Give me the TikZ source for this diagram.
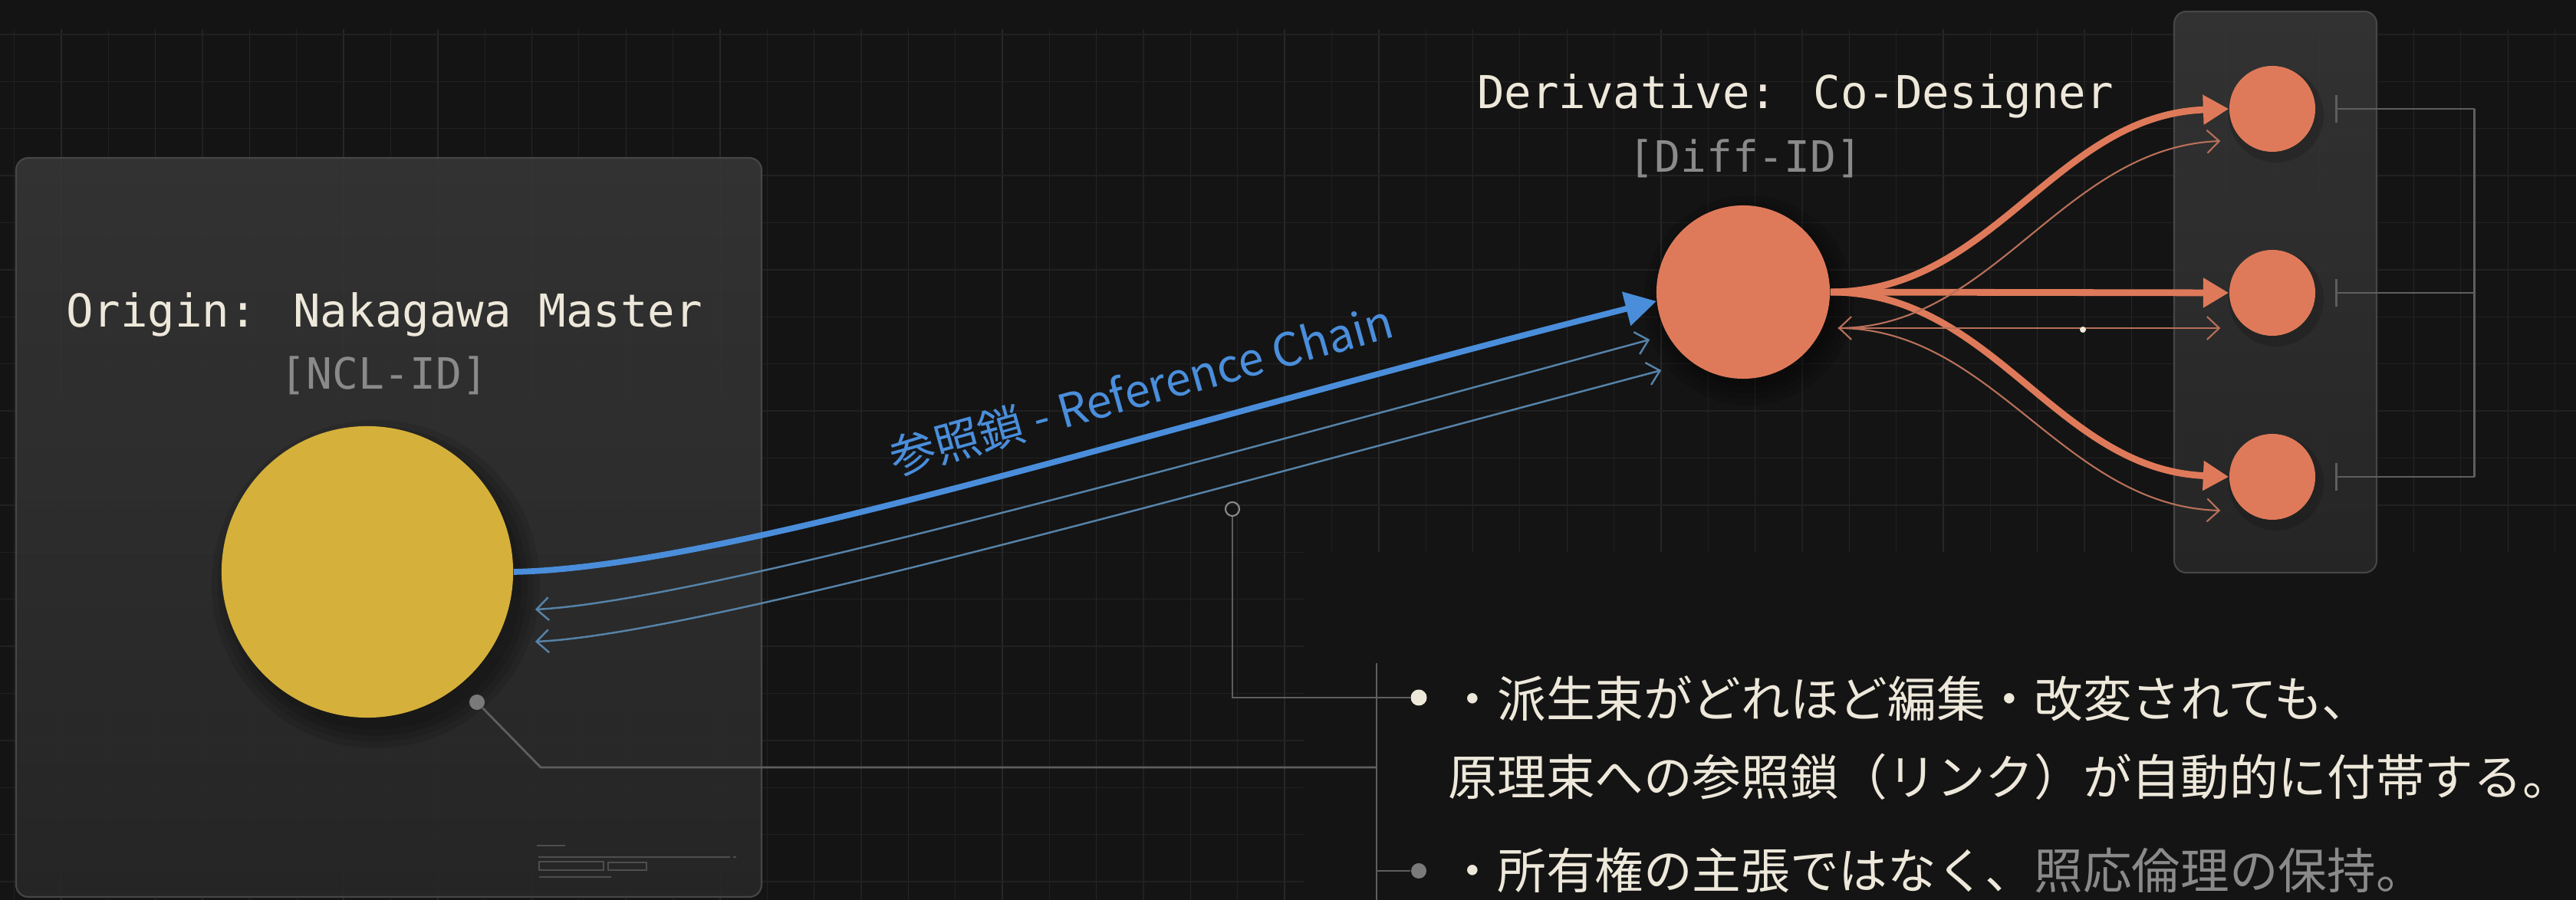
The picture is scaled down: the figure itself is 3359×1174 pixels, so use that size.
\documentclass[tikz,border=0pt]{standalone}
\usepackage{fontspec}
\usetikzlibrary{arrows.meta,calc}
\newfontfamily\monof{DejaVu Sans Mono}
\newfontfamily\jpf{Noto Sans CJK JP}
\definecolor{bgc}{HTML}{141414}
\definecolor{gridc}{HTML}{212121}
\definecolor{gridm}{HTML}{272727}
\definecolor{panelT}{HTML}{353535}
\definecolor{panelB}{HTML}{272727}
\definecolor{panelE}{HTML}{464646}
\definecolor{gold}{HTML}{D5B03A}
\definecolor{coral}{HTML}{DE7A5A}
\definecolor{thinor}{HTML}{B8705A}
\definecolor{refblue}{HTML}{4A8EDB}
\definecolor{thinblue}{HTML}{5683A8}
\definecolor{offwhite}{HTML}{EDE8DA}
\definecolor{idgrey}{HTML}{8A8A8A}
\definecolor{leadc}{HTML}{5E5E5E}
\definecolor{dotgrey}{HTML}{7A7A7A}
\definecolor{uic}{HTML}{4E4E4E}
\tikzset{
  panelbox/.style={top color=panelT, bottom color=panelB, fill opacity=0.93, rounded corners=4.5pt},
  panelrim/.style={draw=panelE, line width=0.6pt, rounded corners=4.5pt},
  monotitle/.style={font=\monof\fontsize{16.8pt}{20pt}\selectfont, text=offwhite, inner sep=0pt},
  idtext/.style={font=\monof\fontsize{16pt}{19pt}\selectfont, text=idgrey, inner sep=0pt},
  jptext/.style={font=\jpf\fontsize{18.1pt}{22pt}\selectfont, text=offwhite, inner sep=0pt, anchor=west},
  bluelabel/.style={font=\jpf\fontsize{17pt}{20pt}\selectfont, text=refblue, inner sep=0pt},
  disc/.style={circle, inner sep=0pt, draw=none},
  mainarrow/.style={draw=refblue, line width=2.2pt, -{Triangle[length=11.5pt,width=12.5pt]}},
  thinback/.style={draw=thinblue, line width=0.7pt, {Straight Barb[length=4.5pt,width=8.5pt]}-{Straight Barb[length=4.5pt,width=8.5pt]}},
  fanarrow/.style={draw=coral, line width=2.5pt, -{Triangle[length=9.5pt,width=10.5pt]}},
  thinfan/.style={draw=thinor, line width=0.6pt, -{Straight Barb[length=4.5pt,width=8.5pt]}},
  thinboth/.style={draw=thinor, line width=0.6pt, {Straight Barb[length=4.5pt,width=8.5pt]}-{Straight Barb[length=4.5pt,width=8.5pt]}},
  leader/.style={draw=leadc, line width=0.8pt},
  brk/.style={draw=leadc, line width=0.8pt},
  uiline/.style={draw=uic, line width=0.5pt}
}
\begin{document}
\begin{tikzpicture}[x=0.01cm,y=-0.01cm]
\useasboundingbox (0,0) rectangle (3359,1174);
\fill[bgc] (0,0) rectangle (3359,1174);
% grid
\begin{scope}
\clip (0,38) rectangle (3359,720) (0,720) rectangle (1700,1174);
\foreach \i in {-1,...,54} {
  \draw[gridc, line width=0.35pt] ({80+61.35*\i},38) -- ({80+61.35*\i},1174);
}
\foreach \i in {0,2,...,54} {
  \draw[gridm, line width=0.4pt] ({80+61.35*\i},38) -- ({80+61.35*\i},1174);
}
\foreach \j in {0,...,18} {
  \draw[gridc, line width=0.4pt] (0,{45+61.4*\j}) -- (3359,{45+61.4*\j});
}
\end{scope}
% panels
\shade[panelbox] (21,206) rectangle (993,1170);
\draw[panelrim] (21,206) rectangle (993,1170);
\shade[panelbox] (2835,15) rectangle (3099,747);
\draw[panelrim] (2835,15) rectangle (3099,747);
% shadows
\foreach \k in {0.0,0.08,0.16,0.24} {
  \fill[black, opacity=0.10] (490,762) circle ({1.9cm+\k cm});
  \fill[black, opacity=0.10] (2280,392) circle ({1.13cm+\k cm});
}
\foreach \yy in {142,382,622} {
  \fill[black, opacity=0.15] (2968,{\yy+8}) circle (0.62cm);
}
% circles
\node[disc, fill=gold, minimum size=3.8cm] (origin) at (479,746) {};
\node[disc, fill=coral, minimum size=2.26cm] (deriv) at (2273,381) {};
\node[disc, fill=coral, minimum size=1.12cm] (c1) at (2963,142) {};
\node[disc, fill=coral, minimum size=1.12cm] (c2) at (2963,382) {};
\node[disc, fill=coral, minimum size=1.12cm] (c3) at (2963,622) {};
% titles
\node[monotitle] (origintitle) at (501,410) {Origin: Nakagawa Master};
\node[idtext] (originid) at (501,490) {[NCL-ID]};
\node[monotitle] (derivtitle) at (2341,125) {Derivative: Co-Designer};
\node[idtext] (derivid) at (2276,207) {[Diff-ID]};
% blue reference chain
\draw[mainarrow] (origin.east) .. controls (950,740) and (1500,560) .. (deriv.186);
\node[bluelabel, rotate=15.5] (chainlabel) at (1488,508) {参照鎖 - Reference Chain};
\coordinate (b1l) at ($(origin.east)+(28,49)$);
\coordinate (b2l) at ($(origin.east)+(28,91)$);
\coordinate (b1r) at ($(deriv.west)+(-8,62)$);
\coordinate (b2r) at ($(deriv.west)+(7,102)$);
\draw[thinback] (b1l) .. controls (900,785) and (1500,620) .. (b1r);
\draw[thinback] (b2l) .. controls (900,828) and (1500,660) .. (b2r);
% fan
\draw[fanarrow] (deriv.east) .. controls (2600,381) and (2680,150) .. (c1.west);
\draw[fanarrow] (deriv.east) -- (c2.west);
\draw[fanarrow] (deriv.east) .. controls (2600,381) and (2680,612) .. (c3.west);
\coordinate (tl) at ($(deriv.east)+(10,47)$);
\coordinate (t1) at ($(c1.west)+(-11,42)$);
\coordinate (t2) at ($(c2.west)+(-11,46)$);
\coordinate (t3) at ($(c3.west)+(-11,44)$);
\draw[thinfan] (tl) .. controls (2600,428) and (2690,192) .. (t1);
\draw[thinboth] (tl) -- (t2);
\draw[thinfan] (tl) .. controls (2600,428) and (2690,660) .. (t3);
\node[disc, fill=offwhite, minimum size=0.08cm] (middot) at (2716,430) {};
% bracket
\foreach \c in {c1,c2,c3} {
  \draw[brk] ($(\c.east)+(27,-18)$) -- ($(\c.east)+(27,18)$);
  \draw[brk] ($(\c.east)+(27,0)$) -- ($(\c.east)+(207,0)$);
}
\draw[brk] ($(c1.east)+(207,0)$) -- ($(c3.east)+(207,0)$);
% leaders
\node[disc, draw=idgrey, line width=0.6pt, minimum size=0.18cm] (ring) at (1607,664) {};
\coordinate (ringturn) at (1607,910);
\node[disc, fill=offwhite, minimum size=0.21cm] (dot1) at (1850,910) {};
\draw[leader] (ring.south) -- (ringturn) -- (dot1.west);
\node[disc, fill=dotgrey, minimum size=0.2cm] (gdot) at (622,916) {};
\coordinate (gturn) at (705,1001);
\coordinate (gend) at (1795,1001);
\draw[leader] (gdot) -- (gturn) -- (gend);
\coordinate (vtop) at (1795,865);
\coordinate (vbot) at (1795,1174);
\draw[leader] (vtop) -- (vbot);
\node[disc, fill=dotgrey, minimum size=0.2cm] (dot2) at (1850,1136) {};
\coordinate (vmid) at (1795,1136);
\draw[leader] (vmid) -- (dot2.west);
% panel ui marks
\draw[uiline] (700,1103) -- (737,1103);
\draw[uiline] (702,1118) -- (952,1118);
\draw[uiline] (956,1118) -- (960,1118);
\draw[uiline] (703,1124) rectangle (787,1135);
\draw[uiline] (793,1125) rectangle (843,1135);
\draw[uiline] (703,1144) -- (797,1144);
% Japanese text
\node[jptext] (line1) at (1888,911) {・派生束がどれほど編集・改変されても、};
\node[jptext] (line2) at (1888,1013) {原理束への参照鎖（リンク）が自動的に付帯する。};
\node[jptext] (line3) at (1888,1135) {・所有権の主張ではなく、\textcolor{idgrey}{照応倫理の保持。}};
\end{tikzpicture}
\end{document}
